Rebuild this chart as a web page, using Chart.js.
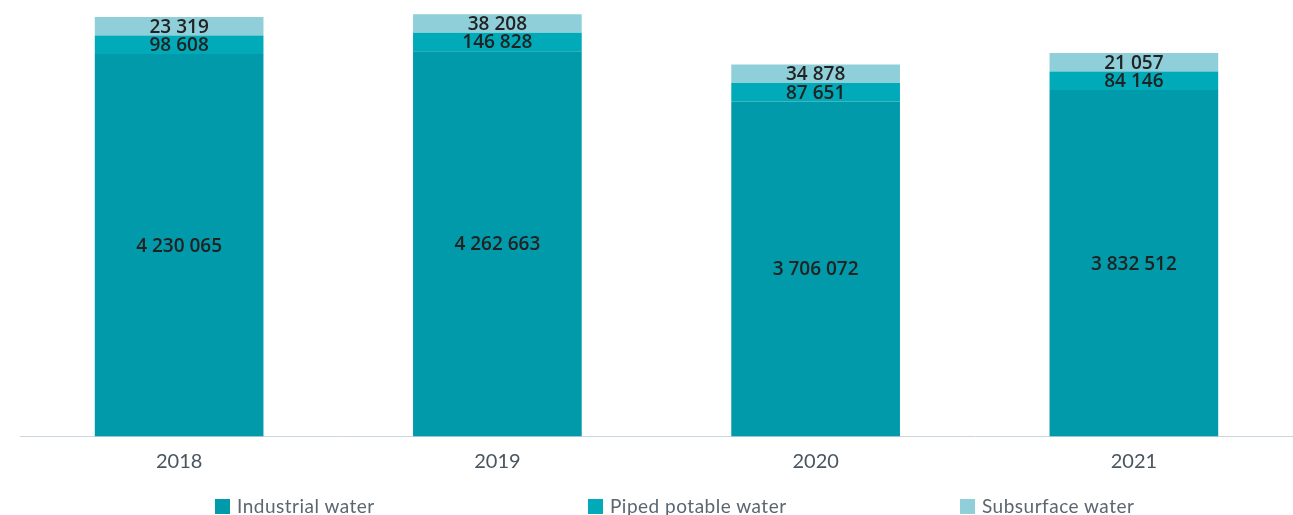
<!DOCTYPE html>
<html>
<head>
<meta charset="utf-8">
<script src="https://cdn.jsdelivr.net/npm/chart.js@4/dist/chart.umd.min.js"></script>
<style>
  html, body { margin: 0; padding: 0; background: #ffffff; }
  #wrap { position: relative; width: 1293px; height: 515px; overflow: hidden; }
  #chart { position: absolute; left: 0; top: 0; }
  .leg { position: absolute; top: 496px; display: flex; align-items: center; font-family: Lato, sans-serif; font-size: 19px; letter-spacing: 0.5px; color: #5b6670; white-space: nowrap; line-height: 20px; }
  .leg i { display: inline-block; width: 15px; height: 15px; margin-right: 7px; }
</style>
</head>
<body>
<div id="wrap">
  <canvas id="chart" width="1293" height="515"></canvas>
  <div class="leg" style="left:215px"><i style="background:#009aaa"></i>Industrial water</div>
  <div class="leg" style="left:588px"><i style="background:#00aab9"></i>Piped potable water</div>
  <div class="leg" style="left:960px"><i style="background:#8ecfd9"></i>Subsurface water</div>
</div>
<script>
const years = ['2018', '2019', '2020', '2021'];
const industrialWater = [4230065, 4262663, 3706072, 3832512];
const pipedPotableWater = [98608, 146828, 87651, 84146];
const subsurfaceWater = [23319, 38208, 34878, 21057];
const seriesNames = ['Industrial water', 'Piped potable water', 'Subsurface water'];
const seriesColors = ['#009aaa', '#00aab9', '#8ecfd9'];

function fmt(v) {
  return String(v).replace(/\B(?=(\d{3})+(?!\d))/g, ' ');
}

// Small segments are shown with a minimum height; restack them on top of each other
const restack = {
  id: 'restack',
  afterDatasetsUpdate(chart) {
    const n = chart.data.labels.length;
    for (let i = 0; i < n; i++) {
      let top = null;
      chart.data.datasets.forEach((ds, d) => {
        const el = chart.getDatasetMeta(d).data[i];
        if (!el) return;
        const h = Math.abs(el.base - el.y);
        if (top === null) { top = el.y; return; }
        el.base = top;
        el.y = top - h;
        top = el.y;
      });
    }
  }
};

const valueLabels = {
  id: 'valueLabels',
  afterDatasetsDraw(chart) {
    const ctx = chart.ctx;
    ctx.save();
    ctx.font = '600 19px "Open Sans", sans-serif';
    ctx.fillStyle = '#222222';
    ctx.textAlign = 'center';
    ctx.textBaseline = 'middle';
    chart.data.datasets.forEach((ds, d) => {
      chart.getDatasetMeta(d).data.forEach((el, i) => {
        ctx.fillText(fmt(ds.data[i]), el.x, (el.y + el.base) / 2 + 1);
      });
    });
    ctx.restore();
  }
};

new Chart(document.getElementById('chart'), {
  type: 'bar',
  data: {
    labels: years,
    datasets: [
      { label: seriesNames[0], data: industrialWater, backgroundColor: seriesColors[0] },
      { label: seriesNames[1], data: pipedPotableWater, backgroundColor: seriesColors[1], minBarLength: 18.5 },
      { label: seriesNames[2], data: subsurfaceWater, backgroundColor: seriesColors[2], minBarLength: 18.5 }
    ]
  },
  options: {
    responsive: false,
    animation: false,
    layout: { padding: { top: 12.5, bottom: 28.5, left: 20, right: 0 } },
    datasets: { bar: { categoryPercentage: 1, barPercentage: 0.53, borderWidth: 0 } },
    plugins: { legend: { display: false }, tooltip: { enabled: false } },
    scales: {
      x: {
        stacked: true,
        grid: { display: false, drawTicks: false },
        border: { display: true, color: '#ccd6de', width: 1 },
        ticks: { padding: 13, color: '#4a555f', font: { family: 'Lato, sans-serif', size: 20 } }
      },
      y: {
        stacked: true,
        display: false,
        min: 0,
        max: 4690000
      }
    }
  },
  plugins: [restack, valueLabels]
});
</script>
</body>
</html>
